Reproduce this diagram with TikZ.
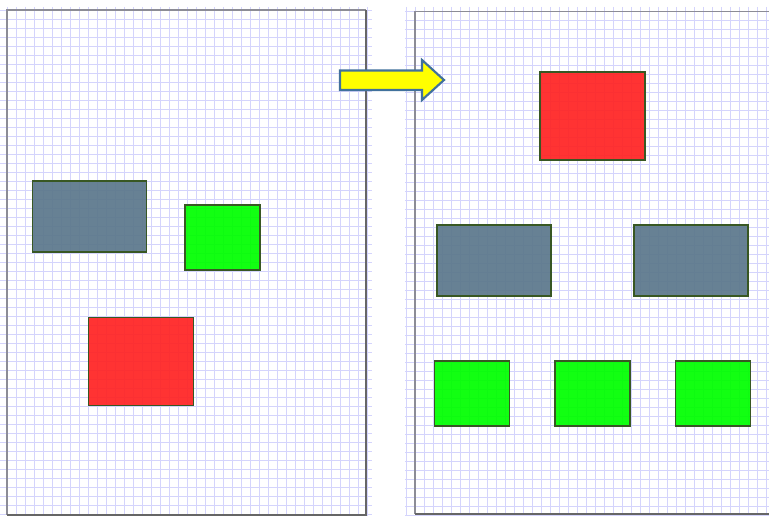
\documentclass[tikz,border=0pt]{standalone}
\usepackage{tikz}
\usetikzlibrary{positioning}
\definecolor{gridblue}{RGB}{212,212,252}
\definecolor{framegray}{RGB}{140,140,150}
\definecolor{edgegreen}{RGB}{56,87,35}
\definecolor{slatefill}{RGB}{92,120,140}
\definecolor{limefill}{RGB}{0,255,0}
\definecolor{redfill}{RGB}{255,36,36}
\definecolor{arrowyellow}{RGB}{255,255,0}
\definecolor{arrowblue}{RGB}{65,113,156}
\tikzset{
  gridline/.style={draw=gridblue, line width=0.55pt},
  frame/.style={draw=framegray, line width=0.9pt},
  frameshade/.style={draw=black!60, line width=1.6pt},
  shapebox/.style={rectangle, draw=edgegreen, line width=1.1pt, fill opacity=0.93, inner sep=0pt},
  slatebox/.style={shapebox, fill=slatefill, minimum width=85.5pt, minimum height=53.25pt},
  limebox/.style={shapebox, fill=limefill, minimum width=56pt, minimum height=48.75pt},
  redbox/.style={shapebox, fill=redfill, minimum width=79pt, minimum height=66pt}
}

\begin{document}
\begin{tikzpicture}[x=0.75pt, y=-0.75pt]
  \useasboundingbox (0,0) rectangle (769,516);
  \fill[white] (0,0) rectangle (769,516);

  % grid of the left sheet
  \foreach \gx in {7,16,...,372} \draw[gridline] (\gx,7) -- (\gx,516);
  \foreach \gy in {10,19,...,516} \draw[gridline] (0,\gy) -- (372,\gy);
  % grid of the right sheet
  \foreach \gx in {406,415,...,769} \draw[gridline] (\gx,7) -- (\gx,516);
  \foreach \gy in {11,20,...,516} \draw[gridline] (405,\gy) -- (769,\gy);

  % sheet frames
  \draw[frame] (366,10) -- (7,10) -- (7,515);
  \draw[frameshade] (7,515) -- (366,515) -- (366,10);
  \draw[frame] (769,11.5) -- (415,11.5) -- (415,514);
  \draw[frameshade] (415,514) -- (769,514);

  % left sheet
  \node[slatebox] (leftslate) at (89.5,216.5) {};
  \node[limebox] (leftlime) at (222.5,237.5) {};
  \node[redbox] (leftred) at (141,361.5) {};

  % right sheet
  \node[redbox] (topred) at (592.5,116) {};
  \node[slatebox] (slateA) at (494,260.5) {};
  \node[slatebox] (slateB) at (691,260.5) {};
  \node[limebox] (limeA) at (472,393.5) {};
  \node[limebox] (limeB) at (592.5,393.5) {};
  \node[limebox] (limeC) at (713,393.5) {};

  % block arrow
  \draw[fill=arrowyellow, draw=arrowblue, line width=1.6pt, line join=miter]
    (340,70.5) -- (422,70.5) -- (422,60) -- (444,80) -- (422,100)
    -- (422,90) -- (340,90) -- cycle;
\end{tikzpicture}
\end{document}
